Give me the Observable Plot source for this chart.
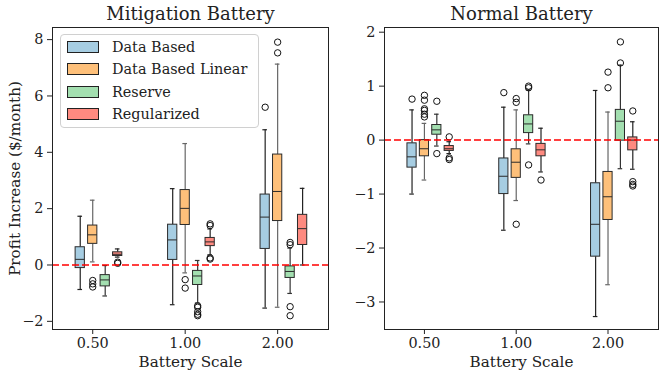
<!DOCTYPE html>
<html><head><meta charset="utf-8">
<script src="https://cdn.jsdelivr.net/npm/d3@7"></script>
<script src="https://cdn.jsdelivr.net/npm/@observablehq/plot@0.6"></script>
<style>
body{margin:0;background:#fff;}
#wrap{position:relative;width:659px;height:373px;font-family:"DejaVu Serif",serif;overflow:hidden;}
.panel{position:absolute;top:0;}
.legend{position:absolute;left:60px;top:34px;width:197px;height:92px;border:1px solid #d0d0d0;border-radius:4px;background:rgba(255,255,255,0.85);}
.item{position:absolute;left:6px;height:22px;display:flex;align-items:center;font-size:14.4px;color:#222;white-space:nowrap;}
.sw{width:30px;height:10px;border:1px solid #222;margin-right:13px;}
</style></head><body><div id="wrap"></div>
<script>
// ---- categories ----
const scaleLabels = ["0.50", "1.00", "2.00"];
const methods = ["Data Based", "Data Based Linear", "Reserve", "Regularized"];

// ---- Mitigation Battery: per method (rows) x battery scale (cols) ----
const mitLow  = [[-0.87, -1.41, -1.53], [0.11, -0.28, -1.50], [-1.10, -1.35, -1.01], [0.28, 0.36, 0.00]];
const mitQ1   = [[-0.11, 0.18, 0.57], [0.75, 1.42, 1.56], [-0.76, -0.71, -0.46], [0.32, 0.67, 0.71]];
const mitMed  = [[0.20, 0.89, 1.70], [1.07, 2.01, 2.61], [-0.53, -0.39, -0.23], [0.38, 0.82, 1.29]];
const mitQ3   = [[0.63, 1.43, 2.50], [1.40, 2.66, 3.92], [-0.36, -0.21, -0.05], [0.45, 0.96, 1.78]];
const mitHigh = [[1.73, 2.71, 4.80], [2.30, 4.31, 7.13], [-0.02, 0.16, 0.60], [0.57, 1.28, 2.72]];
// outliers: [method, scale, value]
const mitOutliers = [
  [0, 2, 5.60],
  [1, 0, -0.55], [1, 0, -0.67], [1, 0, -0.78], [1, 1, -0.52], [1, 1, -0.82], [1, 2, 7.53], [1, 2, 7.91],
  [2, 1, -1.45], [2, 1, -1.50], [2, 1, -1.66], [2, 1, -1.75], [2, 1, -1.80],
  [2, 2, 0.72], [2, 2, 0.80], [2, 2, -1.48], [2, 2, -1.80],
  [3, 0, 0.06], [3, 0, 0.10], [3, 1, 1.40], [3, 1, 1.46], [3, 1, 0.21], [3, 1, 0.25]
];

// ---- Normal Battery ----
const norLow  = [[-1.00, -1.67, -3.27], [-0.74, -1.12, -2.68], [-0.11, -0.07, -0.53], [-0.25, -0.59, -0.54]];
const norQ1   = [[-0.51, -1.00, -2.16], [-0.30, -0.70, -1.48], [0.10, 0.13, -0.01], [-0.20, -0.30, -0.19]];
const norMed  = [[-0.31, -0.67, -1.56], [-0.16, -0.41, -1.05], [0.19, 0.30, 0.35], [-0.16, -0.18, 0.00]];
const norQ3   = [[-0.06, -0.34, -0.80], [0.00, -0.17, -0.59], [0.28, 0.46, 0.56], [-0.11, -0.07, 0.05]];
const norHigh = [[0.56, 0.61, 0.92], [0.31, 0.56, 0.52], [0.48, 0.93, 1.39], [-0.03, 0.22, 0.34]];
const norOutliers = [
  [0, 0, 0.76], [0, 1, 0.88],
  [1, 0, 0.43], [1, 0, 0.48], [1, 0, 0.55], [1, 0, 0.58], [1, 0, 0.74], [1, 0, 0.83],
  [1, 1, 0.70], [1, 1, 0.77], [1, 1, -1.56], [1, 2, 0.97], [1, 2, 1.26],
  [2, 0, 0.72], [2, 0, -0.25], [2, 1, 0.97], [2, 1, 1.00], [2, 1, -0.46], [2, 2, 1.43], [2, 2, 1.82],
  [3, 0, 0.06], [3, 0, -0.33], [3, 0, -0.36], [3, 1, -0.74], [3, 2, 0.54], [3, 2, -0.77], [3, 2, -0.82], [3, 2, -0.85]
];

// ---- styles / layout ----
const colors = ["#a6cde2", "#fec07a", "#a3dfb0", "#fe8a80"];
const whiskerColors = ["#222", "#666", "#333", "#222"];
const offsets = [-0.135, 0, 0.135, 0.27];
const boxHalf = 0.05, capHalf = 0.025;
const font = "DejaVu Serif";

function buildBoxes(low, q1, med, q3, high) {
  const rows = [];
  methods.forEach((name, m) => scaleLabels.forEach((lab, s) => {
    rows.push({m, s, pos: s + offsets[m], lo: low[m][s], q1: q1[m][s], med: med[m][s], q3: q3[m][s], hi: high[m][s]});
  }));
  return rows;
}

function panel(opt) {
  const boxes = buildBoxes(opt.low, opt.q1, opt.med, opt.q3, opt.high);
  const outs = opt.outliers.map(([m, s, v]) => ({m, s, pos: s + offsets[m], v}));
  const wc = d => whiskerColors[d.m];
  const marks = [
    Plot.ruleX(boxes, {x: "pos", y1: "lo", y2: "q1", stroke: wc, strokeWidth: 1.2}),
    Plot.ruleX(boxes, {x: "pos", y1: "q3", y2: "hi", stroke: wc, strokeWidth: 1.2}),
    Plot.ruleY(boxes, {y: "lo", x1: d => d.pos - capHalf, x2: d => d.pos + capHalf, stroke: wc, strokeWidth: 1.2}),
    Plot.ruleY(boxes, {y: "hi", x1: d => d.pos - capHalf, x2: d => d.pos + capHalf, stroke: wc, strokeWidth: 1.2}),
    Plot.rect(boxes, {x1: d => d.pos - boxHalf, x2: d => d.pos + boxHalf, y1: "q1", y2: "q3", fill: d => colors[d.m], stroke: "#2a2a2a", strokeWidth: 1}),
    Plot.ruleY(boxes, {y: "med", x1: d => d.pos - boxHalf, x2: d => d.pos + boxHalf, stroke: "#2a2a2a", strokeWidth: 1}),
    Plot.dot(outs, {x: "pos", y: "v", r: 3.2, stroke: "#111", fill: "none", strokeWidth: 1}),
    Plot.ruleY([0], {stroke: "red", strokeDasharray: "7,3", strokeWidth: 1.5}),
    Plot.frame({stroke: "#222", strokeWidth: 1}),
    Plot.axisX({ticks: [0, 1, 2], tickFormat: i => scaleLabels[i], tickSize: 5, tickPadding: 3, label: null, fontSize: "14.4px"}),
    Plot.axisY({ticks: opt.yTicks, tickFormat: d3.format("d"), tickSize: 5, tickPadding: 4, label: null, fontSize: "14.4px"}),
    Plot.text([opt.title], {text: d => d, frameAnchor: "top", dy: -8, lineAnchor: "bottom", fontSize: 18, fill: "#222"}),
    Plot.text(["Battery Scale"], {text: d => d, frameAnchor: "bottom", dy: 33, lineAnchor: "middle", fontSize: 15.2, fill: "#222"})
  ];
  if (opt.ylabel) marks.push(Plot.text([opt.ylabel], {text: d => d, frameAnchor: "left", dx: -37, rotate: -90, textAnchor: "middle", lineAnchor: "middle", fontSize: 15.2, fill: "#222"}));
  return Plot.plot({
    width: opt.width, height: 373,
    marginLeft: opt.marginLeft, marginRight: opt.marginRight, marginTop: 27, marginBottom: 44,
    style: {fontFamily: font, fontSize: "14.4px", color: "#222", background: "transparent", overflow: "visible"},
    color: {type: "identity"},
    x: {domain: [-0.435, 2.55]},
    y: {domain: opt.yDomain},
    marks
  });
}

const wrap = document.getElementById("wrap");

const left = panel({
  title: "Mitigation Battery", width: 330, marginLeft: 52, marginRight: 2,
  low: mitLow, q1: mitQ1, med: mitMed, q3: mitQ3, high: mitHigh, outliers: mitOutliers,
  yDomain: [-2.29, 8.43], yTicks: [-2, 0, 2, 4, 6, 8], ylabel: "Profit Increase ($/month)"
});
left.classList.add("panel"); left.style.left = "0px";
wrap.appendChild(left);

const right = panel({
  title: "Normal Battery", width: 329, marginLeft: 54, marginRight: 1,
  low: norLow, q1: norQ1, med: norMed, q3: norQ3, high: norHigh, outliers: norOutliers,
  yDomain: [-3.51, 2.087], yTicks: [-3, -2, -1, 0, 1, 2]
});
right.classList.add("panel"); right.style.left = "330px";
wrap.appendChild(right);

// legend (HTML overlay on the left panel)
const lg = document.createElement("div");
lg.className = "legend";
methods.forEach((name, i) => {
  const it = document.createElement("div");
  it.className = "item";
  it.style.top = (1 + i * 22.4) + "px";
  const sw = document.createElement("div");
  sw.className = "sw"; sw.style.background = colors[i];
  const tx = document.createElement("span"); tx.textContent = name;
  it.appendChild(sw); it.appendChild(tx);
  lg.appendChild(it);
});
wrap.appendChild(lg);
</script></body></html>
